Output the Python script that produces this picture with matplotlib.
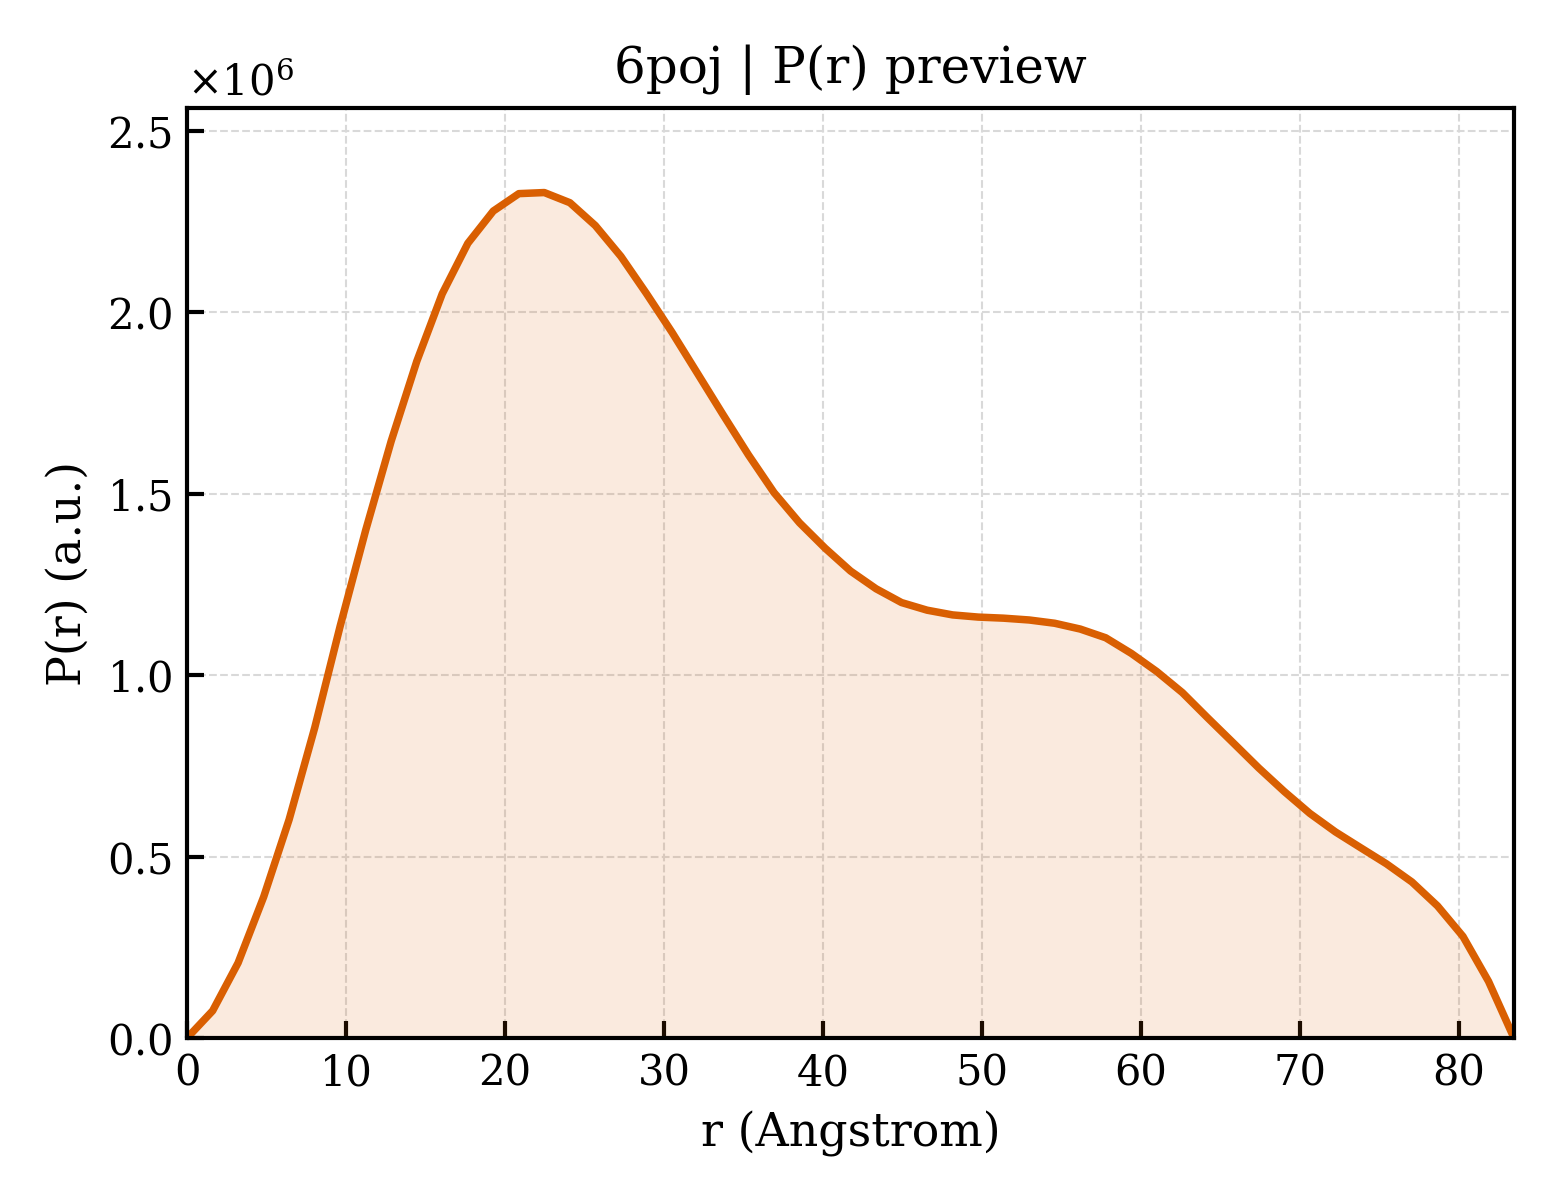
import numpy as np
import matplotlib
matplotlib.use("Agg")
import matplotlib.pyplot as plt

plt.rcParams['font.family'] = ['DejaVu Serif']
plt.rcParams['mathtext.fontset'] = 'dejavuserif'

# r grid (Angstrom)
r = [0.0, 1.61, 3.21, 4.82, 6.42, 8.03, 9.63, 11.24, 12.84, 14.45,
     16.05, 17.66, 19.26, 20.87, 22.47, 24.08, 25.68, 27.29, 28.89, 30.50,
     32.10, 33.71, 35.31, 36.92, 38.52, 40.13, 41.73, 43.34, 44.94, 46.55,
     48.15, 49.76, 51.36, 52.97, 54.57, 56.18, 57.78, 59.39, 60.99, 62.60,
     64.20, 65.81, 67.41, 69.02, 70.62, 72.23, 73.83, 75.44, 77.04, 78.65,
     80.25, 81.86, 83.46]

# P(r), units of 1e6
pr = [0.0, 0.075, 0.207, 0.389, 0.602, 0.855, 1.135, 1.400, 1.645, 1.865,
      2.051, 2.190, 2.279, 2.327, 2.330, 2.302, 2.239, 2.154, 2.052, 1.945,
      1.832, 1.718, 1.607, 1.503, 1.420, 1.350, 1.287, 1.238, 1.200, 1.179,
      1.166, 1.160, 1.157, 1.152, 1.143, 1.127, 1.103, 1.060, 1.010, 0.952,
      0.882, 0.813, 0.744, 0.679, 0.619, 0.568, 0.524, 0.480, 0.430, 0.364,
      0.280, 0.156, 0.0]

r = np.array(r)
pr = np.array(pr) * 1e6

line_color = '#D95F02'

fig = plt.figure(figsize=(5.2, 4), dpi=300)
ax = fig.add_axes([0.1199, 0.135, 0.8506, 0.775])

ax.grid(True, linestyle='--', linewidth=0.5, color='#d9d9d9')
ax.set_axisbelow(True)

ax.fill_between(r, pr, 0, color=line_color, alpha=0.13, linewidth=0)
ax.plot(r, pr, color=line_color, linewidth=1.8)

ax.set_xlim(0, r[-1])
ax.set_ylim(0, 1.1 * pr.max())

ax.ticklabel_format(axis='y', style='sci', scilimits=(0, 0), useMathText=True)
ax.tick_params(direction='in', length=4, width=1.0, labelsize=10)
for s in ax.spines.values():
    s.set_linewidth(1.0)

ax.set_xlabel("r (Angstrom)", fontsize=11)
ax.set_ylabel("P(r) (a.u.)", fontsize=11)
ax.set_title("6poj | P(r) preview", fontsize=12)

fig.savefig("out.png", dpi=300)
